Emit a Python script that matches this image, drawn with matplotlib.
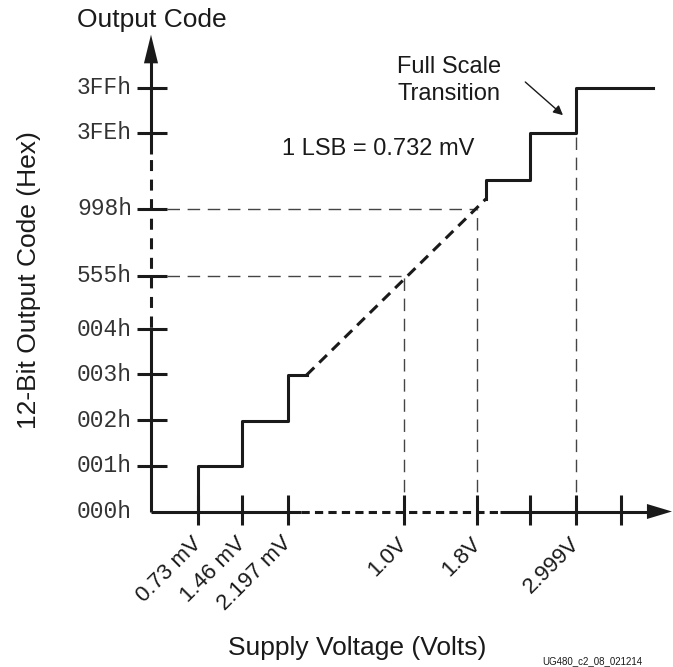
import numpy as np
import matplotlib.pyplot as plt

plt.rcParams['font.family'] = ['Liberation Sans', 'DejaVu Sans']

# positions in schematic units (1 unit = one LSB step on the drawing)
volt_pos = [1.03, 2.01, 3.0, 5.55, 7.17, 8.34, 9.34, 10.33]
volt_labels = ['0.73 mV', '1.46 mV', '2.197 mV', '1.0V', '1.8V', '', '2.999V', '']
code_pos = [0, 1, 2.01, 3.02, 4.01, 5.18, 6.65, 8.32, 9.31]
code_labels = ['000h', '001h', '002h', '003h', '004h', '555h', '998h', '3FEh', '3FFh']

# transfer function: low codes, linear (dashed) region, top codes
low_x = [1.03, 1.03, 2.01, 3.0, 3.42]
low_y = [0, 1, 2, 3, 3]
ramp_x = [3.42, 7.36]
ramp_y = [3, 6.87]
high_x = [7.36, 7.36, 8.34, 9.34, 11.03]
high_y = [6.87, 7.29, 8.32, 9.31, 9.31]

# guide lines: (voltage index, code index)
guides = [(3, 5), (4, 6), (6, 7)]

ink = '#1a1a1a'
S = 45.5  # pixels per unit
fig = plt.figure(figsize=(6.73, 6.67), dpi=100)
ax = fig.add_axes([0, 0, 1, 1])
ax.set_xlim(-151 / S, 522 / S)
ax.set_ylim(-155.5 / S, 511.5 / S)
ax.axis('off')

lw = 2.2
# guide lines (thin grey dashed)
for vi, ci in guides:
    vx, cy = volt_pos[vi], code_pos[ci]
    ax.plot([vx, vx], [0, cy], color='#444', lw=1.0, ls=(0, (9, 5.5)))
    if ci != 7:
        ax.plot([0.35, vx], [cy, cy], color='#444', lw=1.0, ls=(0, (9, 5.5)))

# x axis
ax.plot([0, 3.29], [0, 0], color=ink, lw=lw, solid_capstyle='butt')
ax.plot([3.29, 7.67], [0, 0], color=ink, lw=lw, ls=(0, (2.7, 1.7)))
ax.plot([7.67, 10.95], [0, 0], color=ink, lw=lw, solid_capstyle='butt')
ax.fill([10.9, 11.45, 10.9], [-0.165, 0, 0.165], color=ink, lw=0)
# y axis
ax.plot([0, 0], [0, 4.05], color=ink, lw=lw, solid_capstyle='butt')
ax.plot([0, 0], [4.05, 7.85], color=ink, lw=lw, ls=(0, (3.6, 2.8)))
ax.plot([0, 0], [7.85, 9.9], color=ink, lw=lw, solid_capstyle='butt')
ax.fill([-0.155, 0, 0.155], [9.85, 10.48, 9.85], color=ink, lw=0)

# ticks
for x in volt_pos:
    ax.plot([x, x], [-0.29, 0.37], color=ink, lw=lw, solid_capstyle='butt')
for y in code_pos[1:]:
    ax.plot([-0.31, 0.35], [y, y], color=ink, lw=lw, solid_capstyle='butt')

# transfer function
ax.step(low_x, low_y, where='post', color=ink, lw=lw)
ax.plot(ramp_x, ramp_y, color=ink, lw=lw, ls=(0, (3.5, 2.3)))
ax.step(high_x, high_y, where='post', color=ink, lw=lw)

# tick labels
for x, lab in zip(volt_pos, volt_labels):
    ax.text(x - 0.15, -0.47, lab, rotation=45, rotation_mode='anchor',
            ha='right', va='top', fontsize=16, color=ink)
for y, lab in zip(code_pos, code_labels):
    ax.text(-0.42, y, lab, ha='right', va='center', fontsize=16.5,
            family='Liberation Mono', color='#333')

# titles / annotations
ax.text(0.02, 10.65, 'Output Code', ha='center', va='baseline', fontsize=19, color=ink)
ax.text(-2.68, 5.09, '12-Bit Output Code (Hex)', rotation=90, ha='center',
        va='center', fontsize=19, color=ink)
ax.text(4.53, -3.15, 'Supply Voltage (Volts)', ha='center', va='baseline',
        fontsize=19, color=ink)
ax.text(2.88, 7.84, '1 LSB = 0.732 mV', ha='left', va='baseline', fontsize=17, color=ink)
ax.text(6.55, 9.64, 'Full Scale', ha='center', va='baseline', fontsize=17, color=ink)
ax.text(6.55, 9.04, 'Transition', ha='center', va='baseline', fontsize=17, color=ink)
ax.annotate('', xy=(9.10, 8.67), xytext=(8.18, 9.48),
            arrowprops=dict(arrowstyle='-|>', lw=1.0, color=ink, mutation_scale=14))
ax.text(8.59, -3.17, 'UG480_c2_08_021214', ha='left', va='top', fontsize=7, color=ink)

fig.savefig('out.png', dpi=100)
